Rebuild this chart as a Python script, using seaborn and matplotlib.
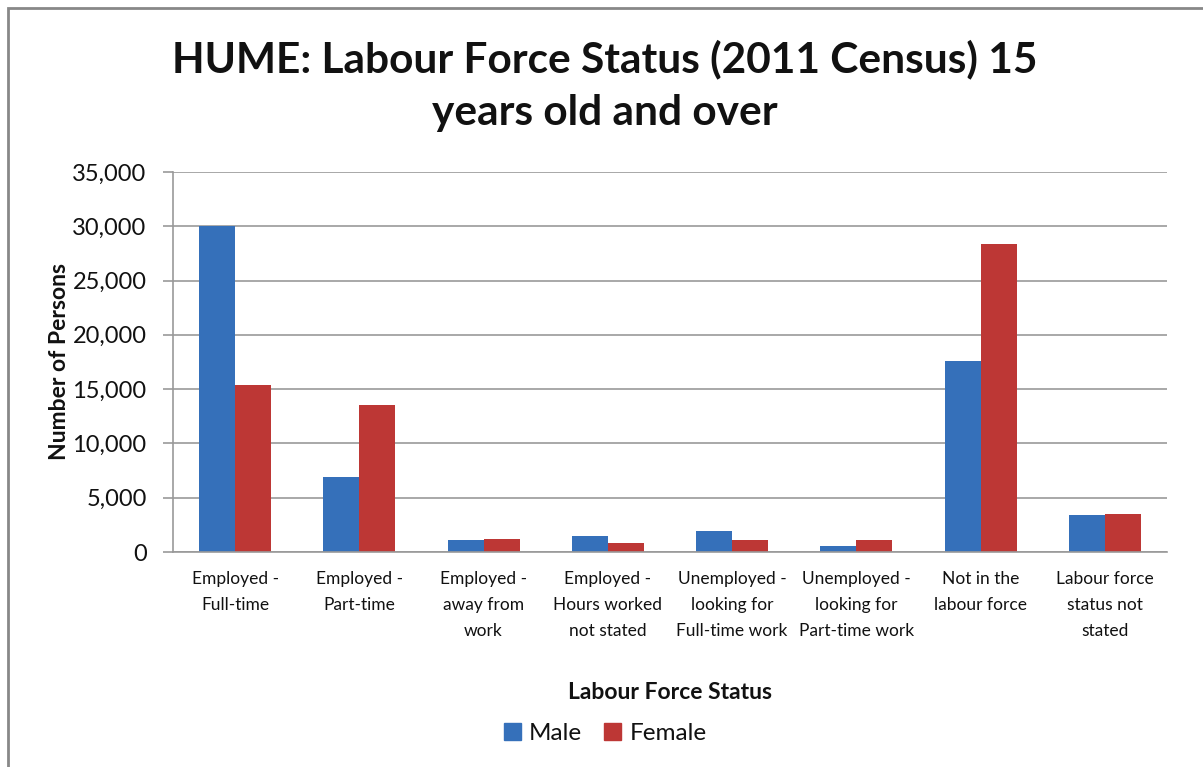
import matplotlib
matplotlib.use('Agg')
import matplotlib.pyplot as plt
import matplotlib.patches as mpatches
import pandas as pd
import seaborn as sns

# Data
categories = ['Employed -\nFull-time', 'Employed -\nPart-time', 'Employed -\naway from\nwork',
              'Employed -\nHours worked\nnot stated', 'Unemployed -\nlooking for\nFull-time work',
              'Unemployed -\nlooking for\nPart-time work', 'Not in the\nlabour force',
              'Labour force\nstatus not\nstated']
male = [30000, 6950, 1150, 1480, 1950, 560, 17600, 3400]
female = [15350, 13550, 1230, 820, 1120, 1120, 28400, 3500]
series = ['Male', 'Female']
colors = ['#3570BA', '#BD3735']

df = pd.DataFrame({'status': categories * 2,
                   'sex': ['Male'] * len(categories) + ['Female'] * len(categories),
                   'persons': male + female})

sns.set_style('white')
plt.rcParams['font.family'] = ['Lato', 'DejaVu Sans']
txt = '#111111'

fig = plt.figure(figsize=(12.03, 7.67), dpi=100)
ax = fig.add_axes([0.1438, 0.2803, 0.8262, 0.4955])

sns.barplot(data=df, x='status', y='persons', hue='sex', hue_order=series,
            palette=colors, width=0.58, saturation=1, linewidth=0, ax=ax, legend=False)

ax.set_ylim(0, 35000)
ax.set_xlim(-0.5, len(categories) - 0.5)
ax.set_yticks(range(0, 35001, 5000))
ax.set_yticklabels([f'{v:,}' for v in range(0, 35001, 5000)], fontsize=17, color=txt)
ax.set_xticks(range(len(categories)))
ax.set_xticklabels(categories, fontsize=12.5, color=txt, linespacing=1.75)
ax.set_xticks([i - 0.5 for i in range(len(categories) + 1)], minor=True)
ax.tick_params(axis='x', which='major', length=0, pad=14)
ax.tick_params(axis='x', which='minor', length=8, width=1.2, color='#999999')
ax.tick_params(axis='y', length=7, width=1.2, color='#999999', left=True, pad=12)
ax.grid(axis='y', color='#999999', linewidth=1.2)
ax.set_axisbelow(True)
for side in ['top', 'right']:
    ax.spines[side].set_visible(False)
for side in ['left', 'bottom']:
    ax.spines[side].set_color('#999999')
    ax.spines[side].set_linewidth(1.2)

ax.set_ylabel('Number of Persons', fontsize=16.5, fontweight='bold', labelpad=2, color=txt)
ax.set_xlabel('Labour Force Status', fontsize=16.5, fontweight='bold', labelpad=31, color=txt)

fig.text(0.503, 0.922, 'HUME: Labour Force Status (2011 Census) 15', ha='center', va='center',
         fontsize=30.5, fontweight='bold', color=txt)
fig.text(0.503, 0.853, 'years old and over', ha='center', va='center',
         fontsize=30.5, fontweight='bold', color=txt)

handles = [mpatches.Patch(color=c, label=s) for c, s in zip(colors, series)]
fig.legend(handles=handles, loc='center', bbox_to_anchor=(0.503, 0.044), ncol=2,
           frameon=False, fontsize=17.5, handlelength=0.7, handleheight=0.7,
           handletextpad=0.35, columnspacing=0.9, labelcolor=txt)

# chart area border
fig.add_artist(mpatches.Rectangle((8 / 1203, -0.1), 1.2, 1.1 - 8 / 767,
                                  transform=fig.transFigure, fill=False,
                                  edgecolor='#888888', linewidth=2))

fig.savefig('out.png', dpi=100)
